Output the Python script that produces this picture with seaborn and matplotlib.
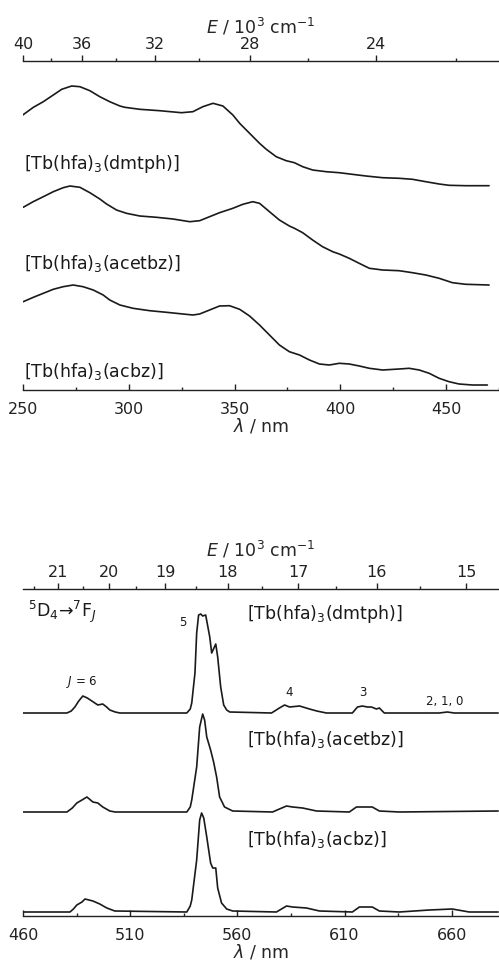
import numpy as np
import pandas as pd
import matplotlib
matplotlib.use("Agg")
import matplotlib.pyplot as plt
import seaborn as sns
from matplotlib.ticker import FixedLocator

# ---------------- data: absorption (top panel) ----------------
abs_dmtph_nm = [249.9, 254.9, 259.6, 264.3, 268.3, 273.0, 276.9, 281.6, 286.3, 291.0, 295.8, 298.1, 305.2, 314.6, 324.9, 330.3, 335.0, 339.8, 344.5,
                349.2, 352.4, 357.1, 361.8, 365.0, 369.7, 374.4, 378.3, 382.2, 386.9, 393.3, 399.5, 412.1, 420.0, 427.8, 434.1, 440.4, 446.7, 451.4, 459.3, 470.3]
abs_dmtph_y = [275, 282.7, 288.3, 295, 300.7, 304, 303.3, 299.3, 293.3, 288.3, 284, 282.7, 280.7, 279.3, 277.3, 278.3, 283.3, 286.7, 284,
               275, 266.7, 256.7, 246.7, 240.7, 233.3, 229.3, 227.3, 223.3, 220, 218.3, 217.3, 214, 212.3, 211.7, 210.7, 208.3, 206, 204.7, 204.3, 204.3]

abs_acetbz_nm = [250.1, 254.8, 259.6, 264.3, 269.0, 272.2, 276.9, 281.6, 286.3, 289.5, 294.2, 298.9, 305.2, 313.1, 320.9, 328.8, 333.5, 338.2, 342.9,
                 349.2, 353.9, 358.6, 361.8, 366.5, 371.2, 375.9, 378.3, 382.2, 386.9, 391.6, 396.4, 399.5, 404.2, 408.9, 413.7, 420.0, 427.8, 434.1,
                 440.4, 446.7, 453.0, 459.3, 470.3]
abs_acetbz_y = [182.7, 188.3, 193.3, 198.3, 202.3, 204, 202.7, 197.3, 191, 186, 180, 176.7, 174, 172.7, 171, 168.3, 169.3, 173.3, 177.3,
                181.7, 185.7, 188.3, 186.7, 178.3, 170, 164, 161.7, 157.3, 150, 143.3, 138.3, 136, 131.7, 126.7, 121.7, 120, 119.3, 117.3,
                115, 111.7, 107.3, 105.7, 105]

abs_acbz_nm = [250.1, 254.9, 259.6, 264.3, 269.0, 273.7, 278.4, 283.2, 287.9, 291.0, 295.8, 302.0, 309.9, 317.8, 325.6, 330.3, 333.5, 338.2, 342.9,
               347.6, 352.4, 357.1, 361.8, 366.5, 371.2, 375.9, 380.7, 385.4, 390.1, 394.8, 399.5, 404.2, 409.0, 413.7, 420.0, 427.8, 432.5,
               437.3, 442.0, 446.7, 451.4, 456.1, 462.4, 469.5]
abs_acbz_y = [88.3, 92.7, 96.7, 100.7, 103.3, 105, 103.3, 100, 95, 90, 85, 81.7, 79.3, 77.7, 76, 75, 76, 80, 84,
              84.3, 80.7, 74, 65, 55, 45, 38.3, 35, 30, 26, 25, 26.7, 26, 24, 21.7, 20, 21, 21.7,
              20, 16.7, 11.7, 8.3, 6, 5, 5]

# ---------------- data: emission (bottom panel) ----------------
em_dmtph_nm = [460, 480.5, 482.5, 484.2, 486.0, 487.9, 490.0, 492.1, 494.9, 497.2, 499.0, 500.5, 503.0, 505.2, 536.4, 538.0, 538.7, 540.2, 541.0, 541.9,
               542.9, 543.8, 545.2, 547.1, 548.0, 549.9, 550.8, 552.2, 553.6, 555.0, 556.4,
               575.9, 579.6, 582.0, 584.3, 589.0, 593.6, 597.0, 601.5, 613.6, 616.0, 618.3, 620.6, 622.5, 624.8, 626.2, 628.5, 654.1, 657.9, 661.1, 681.6]
em_dmtph_y = [203, 203, 205, 209, 215, 220, 218, 215, 211, 212, 209, 206, 204, 203, 203, 207, 213, 243, 283, 301,
              302, 300, 301, 279, 263, 272, 259, 229, 211, 206, 204,
              203, 208, 211, 209, 210, 207, 205, 203, 203, 209, 210, 209, 209, 207, 208, 203, 203, 204, 203, 203]

em_acetbz_nm = [460, 480.5, 483.0, 485.1, 487.5, 489.8, 492.6, 494.9, 497.2, 500.5, 503.0, 536.4, 538.0, 538.7, 541.0, 542.4, 543.8, 544.7, 545.7,
                547.5, 548.9, 550.3, 551.7, 554.0, 557.8,
                576.4, 579.6, 582.9, 585.7, 590.4, 596.9, 612.2, 615.5, 619.2, 622.9, 626.2, 635.5, 681.6]
em_acetbz_y = [104, 104, 108, 113, 116, 119, 114, 113, 109, 105, 104, 104, 109, 116, 149, 189, 202, 196, 179,
               166, 154, 139, 119, 109, 105,
               104, 107, 110, 109, 108, 105, 104, 109, 109, 109, 105, 104, 105]

em_acbz_nm = [460, 481.9, 483.5, 485.1, 487.5, 488.9, 492.6, 495.8, 499.1, 502.8, 536.4, 538.0, 538.7, 541.0, 542.4, 543.3, 544.3, 545.7, 547.5,
              548.5, 549.9, 550.8, 552.6, 555.0, 557.8,
              578.2, 582.9, 585.7, 592.2, 598.3, 613.6, 616.9, 620.1, 622.9, 626.2, 635.5, 649.5, 660.2, 668.1, 681.6]
em_acbz_y = [4, 4, 7, 11, 14, 17, 15, 12, 8, 5, 4, 10, 16, 56, 96, 103, 98, 79, 53,
             48, 48, 28, 13, 7, 5,
             4, 10, 9, 8, 5, 4, 9, 9, 9, 5, 4, 6, 7, 4, 4]

compounds = ["dmtph", "acetbz", "acbz"]
abs_labels = [r"[Tb(hfa)$_3$(dmtph)]", r"[Tb(hfa)$_3$(acetbz)]", r"[Tb(hfa)$_3$(acbz)]"]
abs_label_y = [226, 126, 19]
em_label_y = [302, 176, 77]

top_major_E = [40, 36, 32, 28, 24]
top_minor_E = [38, 34, 30, 26, 22]
bot_major_E = [21, 20, 19, 18, 17, 16, 15]
bot_minor_E = [21.5, 20.5, 19.5, 18.5, 17.5, 16.5, 15.5]
abs_xticks = [250, 300, 350, 400, 450]
abs_xminor = [275, 325, 375, 425, 475]
em_xticks = [460, 510, 560, 610, 660]
em_xminor = [485, 535, 585, 635]

band_labels = ["5", "$J$ = 6", "4", "3", "2, 1, 0"]
band_x = [534.5, 487.5, 584.3, 618.3, 656.5]
band_y = [293, 234, 224, 224, 214]

abs_df = pd.concat([
    pd.DataFrame({"nm": abs_dmtph_nm, "y": abs_dmtph_y, "c": "dmtph"}),
    pd.DataFrame({"nm": abs_acetbz_nm, "y": abs_acetbz_y, "c": "acetbz"}),
    pd.DataFrame({"nm": abs_acbz_nm, "y": abs_acbz_y, "c": "acbz"}),
])
em_df = pd.concat([
    pd.DataFrame({"nm": em_dmtph_nm, "y": em_dmtph_y, "c": "dmtph"}),
    pd.DataFrame({"nm": em_acetbz_nm, "y": em_acetbz_y, "c": "acetbz"}),
    pd.DataFrame({"nm": em_acbz_nm, "y": em_acbz_y, "c": "acbz"}),
])

sns.set_style("white")
plt.rcParams["font.family"] = ["DejaVu Sans"]
plt.rcParams["mathtext.fontset"] = "dejavusans"
plt.rcParams["lines.solid_joinstyle"] = "round"

fig = plt.figure(figsize=(4.99, 9.65), dpi=100)
ax1 = fig.add_axes([23 / 499, 1 - 390 / 965, 476 / 499, 329 / 965])
ax2 = fig.add_axes([23 / 499, 1 - 916 / 965, 476 / 499, 327 / 965])

def inv(x):
    x = np.asarray(x, dtype=float)
    with np.errstate(divide="ignore"):
        return np.where(x == 0, np.inf, 1e4 / np.where(x == 0, 1, x))

panels = [(ax1, abs_df, (250, 475), (0, 329), 2.5),
          (ax2, em_df, (460, 682), (0, 327), 6)]

for ax, df, xl, yl, lpad in panels:
    sns.lineplot(data=df, x="nm", y="y", units="c", estimator=None, sort=False,
                 color="#1a1a1a", lw=1.2, ax=ax, legend=False)
    ax.set_xlim(*xl)
    ax.set_ylim(*yl)
    ax.set_ylabel("")
    ax.set_yticks([])
    for s in ["left", "right", "top"]:
        ax.spines[s].set_visible(False)
    ax.spines["bottom"].set_linewidth(1.0)
    ax.spines["bottom"].set_color("#222222")
    ax.set_xlabel(r"$\lambda$ / nm", fontsize=12.5, labelpad=0)
    ax.tick_params(axis="x", which="major", direction="in", length=4.5, width=1.0,
                   pad=8.5, labelsize=11.5, colors="#222222", bottom=True)
    ax.tick_params(axis="x", which="minor", direction="in", length=2.5, width=1.0, bottom=True)
    sec = ax.secondary_xaxis("top", functions=(inv, inv))
    sec.spines["top"].set_linewidth(1.0)
    sec.spines["top"].set_color("#222222")
    sec.set_xlabel(r"$E$ / 10$^3$ cm$^{-1}$", fontsize=12.5, labelpad=lpad)
    sec.tick_params(axis="x", which="major", direction="out", length=4.5, width=1.0,
                    pad=1.8, labelsize=11.5, colors="#222222")
    sec.tick_params(axis="x", which="minor", direction="out", length=2.5, width=1.0)
    ax.patch.set_alpha(0)

ax1.xaxis.set_major_locator(FixedLocator(abs_xticks))
ax1.xaxis.set_minor_locator(FixedLocator(abs_xminor))
ax2.xaxis.set_major_locator(FixedLocator(em_xticks))
ax2.xaxis.set_minor_locator(FixedLocator(em_xminor))

sec1 = ax1.child_axes[0]
sec2 = ax2.child_axes[0]
sec1.xaxis.set_major_locator(FixedLocator(top_major_E))
sec1.xaxis.set_minor_locator(FixedLocator(top_minor_E))
sec2.xaxis.set_major_locator(FixedLocator(bot_major_E))
sec2.xaxis.set_minor_locator(FixedLocator(bot_minor_E))

for lab, yy in zip(abs_labels, abs_label_y):
    ax1.text(250.3, yy, lab, fontsize=12.5, ha="left", va="center", color="#1a1a1a")
for lab, yy in zip(abs_labels, em_label_y):
    ax2.text(564.7, yy, lab, fontsize=12.5, ha="left", va="center", color="#1a1a1a")

ax2.text(462.3, 304, r"$^5$D$_4$→$^7$F$_J$", fontsize=12.5, ha="left", va="center", color="#1a1a1a")
for lab, xx, yy in zip(band_labels, band_x, band_y):
    ax2.text(xx, yy, lab, fontsize=8.5, ha="center", va="center", color="#1a1a1a")

fig.savefig("out.png", dpi=100)
